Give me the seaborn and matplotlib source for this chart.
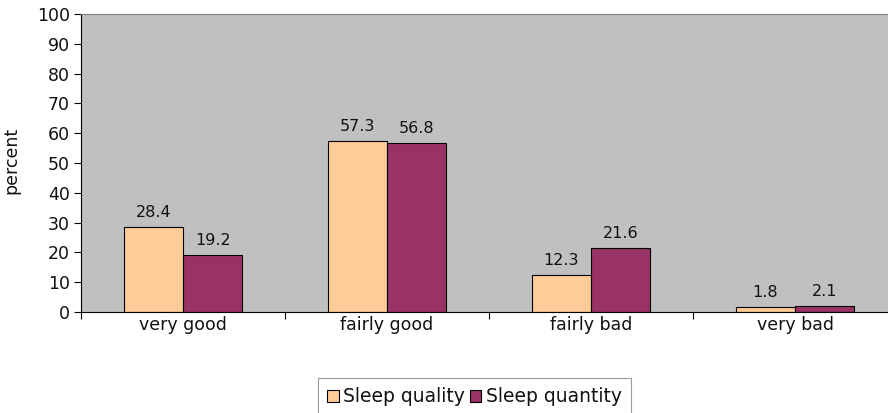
import pandas as pd
import seaborn as sns
import matplotlib.pyplot as plt

categories = ["very good", "fairly good", "fairly bad", "very bad"]
sleep_quality = [28.4, 57.3, 12.3, 1.8]
sleep_quantity = [19.2, 56.8, 21.6, 2.1]
series_names = ["Sleep quality", "Sleep quantity"]
y_ticks = list(range(0, 101, 10))

df = pd.DataFrame({
    "category": categories * 2,
    "value": sleep_quality + sleep_quantity,
    "series": [series_names[0]] * 4 + [series_names[1]] * 4,
})

sns.set_style("white")
plt.rcParams["font.family"] = ["DejaVu Sans"]
fs = 11.5

fig = plt.figure(figsize=(8.88, 4.13), dpi=100)
ax = fig.add_axes([81 / 888, 1 - 312 / 413, (897 - 81) / 888, (312 - 14) / 413])
ax.set_facecolor("#C0C0C0")

colors = {"Sleep quality": "#FFCC99", "Sleep quantity": "#993366"}
sns.barplot(data=df, x="category", y="value", hue="series", order=categories,
            hue_order=series_names, palette=colors, width=0.58, gap=0,
            edgecolor="black", linewidth=0.8, saturation=1, ax=ax, legend=False)

for cont in ax.containers:
    ax.bar_label(cont, fmt="%.1f", padding=5, fontsize=fs, color="#111111")

ax.set_ylim(0, 100)
ax.set_xlim(-0.5, 3.5)
ax.set_yticks(y_ticks)
ax.set_yticklabels([str(t) for t in y_ticks], fontsize=12.5)
ax.tick_params(axis="y", length=5, width=0.8, color="black", pad=3, left=True,
               labelcolor="#111111")
ax.tick_params(axis="x", which="major", length=0, pad=3, labelsize=12.5,
               labelcolor="#111111")
ax.set_xticks([-0.5, 0.5, 1.5, 2.5, 3.5], minor=True)
ax.tick_params(axis="x", which="minor", length=5, width=0.8, color="black", bottom=True)
ax.set_xlabel("")
ax.set_ylabel("percent", fontsize=12.5, color="#111111")
ax.yaxis.set_label_coords(-0.074, 0.51)

ax.spines["left"].set_color("black")
ax.spines["bottom"].set_color("black")
ax.spines["top"].set_color("#808080")
ax.spines["right"].set_color("#808080")
for s in ax.spines.values():
    s.set_linewidth(0.8)

handles = [plt.Rectangle((0, 0), 1, 1, facecolor=colors[n], edgecolor="black", linewidth=0.8)
           for n in series_names]
leg = fig.legend(handles, series_names, loc="upper left",
                 bbox_to_anchor=(318 / 888, 1 - 378 / 413), ncol=2, fontsize=13.5,
                 frameon=True, fancybox=False, edgecolor="#808080",
                 handlelength=0.6, handleheight=0.6, handletextpad=0.25,
                 columnspacing=0.25, borderpad=0.5, borderaxespad=0)
leg.get_frame().set_linewidth(0.8)
for t in leg.get_texts():
    t.set_color("#111111")

fig.savefig("out.png", dpi=100)
